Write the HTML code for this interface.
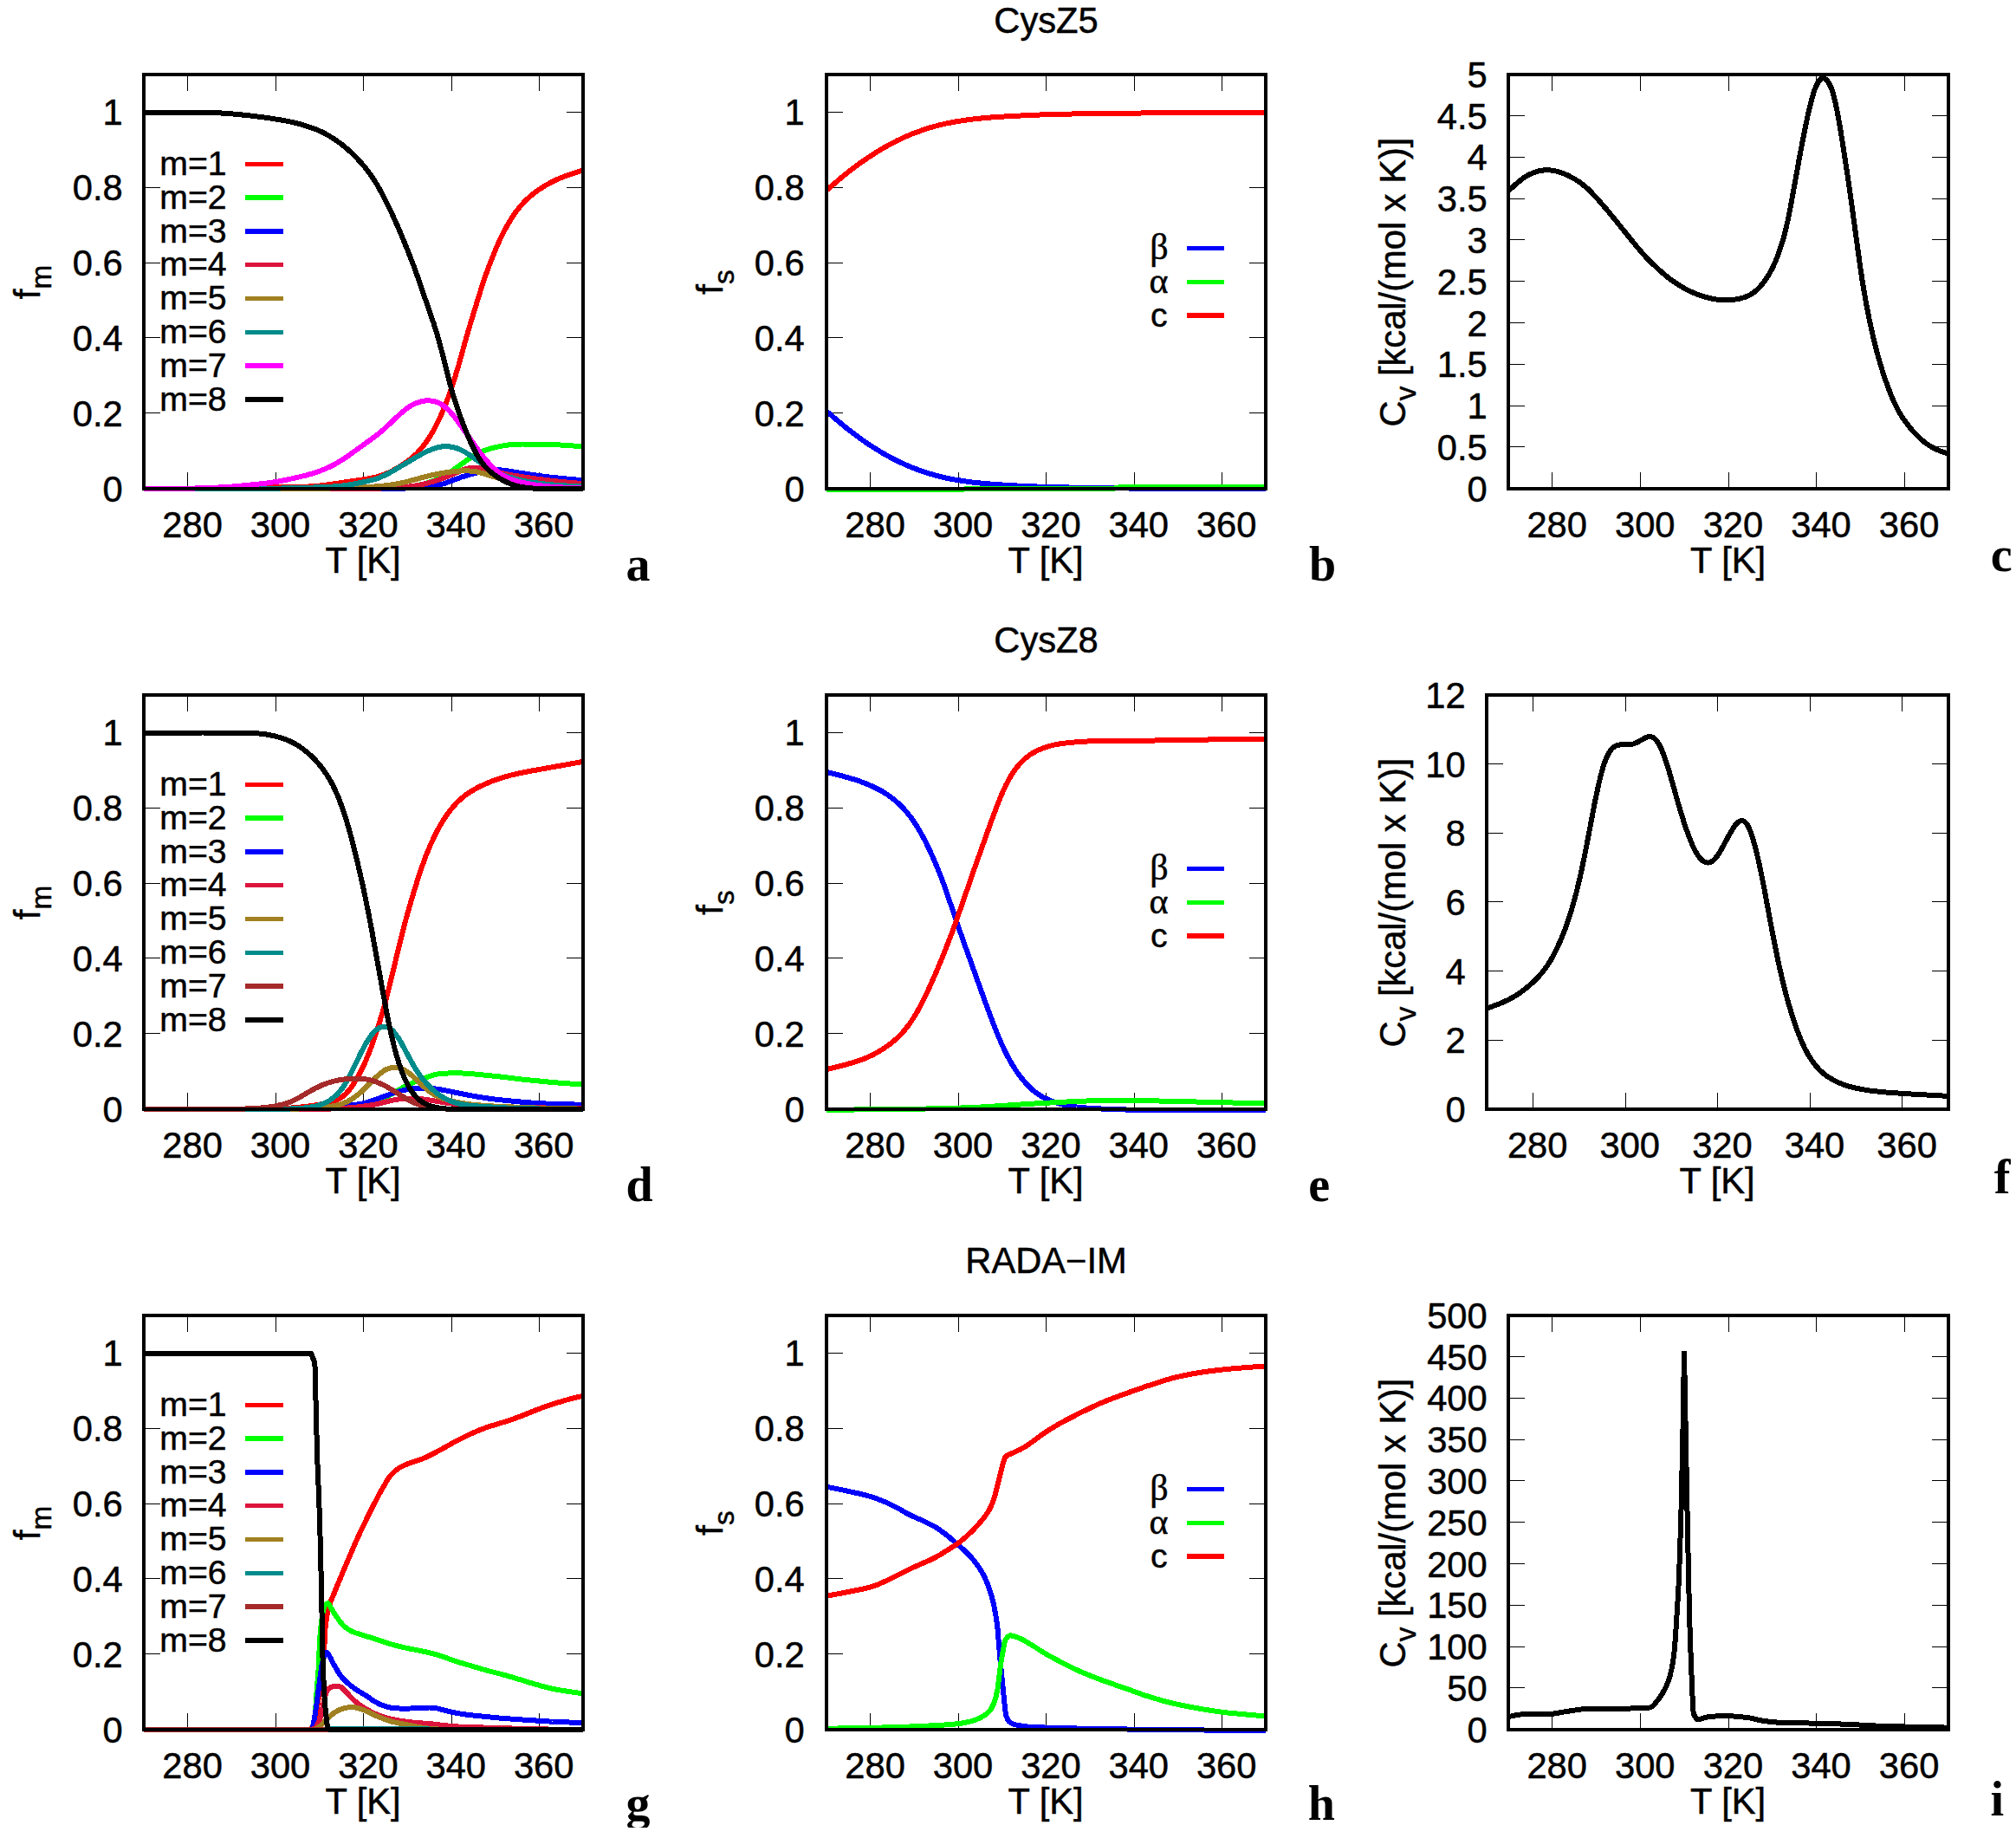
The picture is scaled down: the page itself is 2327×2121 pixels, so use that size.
<!DOCTYPE html>
<html><head><meta charset="utf-8"><title>Figure</title>
<style>html,body{margin:0;padding:0;background:#fff}svg{display:block}text{font-family:"Liberation Sans",sans-serif;fill:#000;stroke:#000;stroke-width:0.5px;stroke-linejoin:round}text.ltr{font-family:"Liberation Serif",serif;font-weight:bold;font-size:56px;stroke:none}text.grk{font-family:"Liberation Serif",serif;font-size:42px}</style>
</head><body>
<svg width="2327" height="2121" viewBox="0 0 2327 2121">
<rect width="2327" height="2121" fill="#fff"/>
<g id="panel-a">
<clipPath id="clip-a"><rect x="166" y="83" width="507" height="485"/></clipPath>
<path d="M216.50,86v19M216.50,564v-19M318.50,86v19M318.50,564v-19M419.50,86v19M419.50,564v-19M521.50,86v19M521.50,564v-19M622.50,86v19M622.50,564v-19M166,563.50h19M673,563.50h-19M166,476.50h19M673,476.50h-19M166,389.50h19M673,389.50h-19M166,303.50h19M673,303.50h-19M166,216.50h19M673,216.50h-19M166,129.50h19M673,129.50h-19" stroke="#000" stroke-width="1" fill="none" shape-rendering="crispEdges"/>
<g clip-path="url(#clip-a)" fill="none" stroke-width="6" stroke-linejoin="bevel" shape-rendering="crispEdges">
<path d="M166.0,564.0 258.3,564.0 309.7,562.4 348.3,561.9 358.7,561.4 368.0,560.7 379.7,559.2 422.5,552.8 430.1,551.4 436.2,550.0 440.3,548.7 444.1,547.3 448.1,545.6 452.2,543.6 456.5,541.3 461.1,538.6 465.9,535.5 469.9,532.7 476.0,527.9 478.8,525.4 481.6,522.7 484.4,519.7 486.9,516.7 492.0,510.1 496.8,502.8 501.6,494.5 505.9,486.0 510.5,475.8 514.1,467.2 517.6,457.8 521.2,447.8 524.7,437.0 529.5,421.0 538.4,389.1 544.0,370.0 554.6,335.7 561.2,315.9 564.5,306.9 568.1,297.7 571.6,289.0 575.1,280.8 578.2,274.2 581.5,267.5 584.8,261.4 588.1,255.7 591.6,250.0 595.4,244.6 599.2,239.7 603.3,235.0 607.3,230.8 611.7,226.8 616.2,223.1 621.0,219.5 626.4,216.0 631.9,212.7 637.8,209.6 643.6,206.8 649.4,204.4 656.0,201.9 663.1,199.5 673.0,196.3" stroke="#ff0000"/>
<path d="M166.0,564.0 312.0,563.8 431.7,563.8 441.6,563.7 450.2,563.4 458.0,563.0 465.4,562.4 471.2,561.7 476.8,561.0 481.9,560.1 486.7,559.1 491.2,557.9 495.8,556.5 500.1,555.0 504.2,553.4 511.0,550.1 517.6,546.2 523.2,542.4 540.2,530.2 544.7,527.2 549.0,524.7 554.6,521.9 560.2,519.6 566.0,517.7 572.6,516.0 580.7,514.4 588.1,513.3 594.7,512.8 602.8,512.5 623.3,512.7 637.5,513.0 650.9,513.7 673.0,515.3" stroke="#00ff00"/>
<path d="M166.0,564.0 409.4,564.0 461.6,563.6 475.8,563.4 486.4,563.0 492.0,562.6 497.1,561.9 501.9,561.0 506.7,559.9 514.1,557.5 527.5,552.4 533.8,550.2 542.4,547.6 551.6,545.2 557.2,543.9 562.2,543.1 567.0,542.5 571.6,542.3 577.4,542.4 584.3,543.1 611.4,547.5 621.5,548.9 632.4,550.3 651.2,552.3 673.0,554.2" stroke="#0000ff"/>
<path d="M166.0,564.0 391.1,563.9 436.2,563.6 448.1,563.3 458.8,562.8 468.2,562.1 476.5,561.0 484.1,559.8 491.5,558.1 500.9,555.4 512.0,551.6 519.6,548.6 531.3,543.5 536.1,541.7 539.2,540.8 542.2,540.2 545.2,539.8 548.5,539.6 553.6,539.8 559.2,540.6 564.8,541.9 577.7,545.5 584.0,547.0 592.6,548.6 606.8,550.8 623.6,553.1 638.8,555.0 654.0,556.5 673.0,558.1" stroke="#dc143c"/>
<path d="M166.0,564.0 352.6,564.0 393.1,563.3 408.1,562.8 422.5,562.1 432.2,561.5 440.8,560.8 448.1,560.0 454.7,559.0 460.8,557.9 467.2,556.5 492.3,549.8 499.1,548.2 505.4,546.9 514.1,545.4 523.2,544.2 530.5,543.5 536.9,543.3 540.9,543.4 545.0,543.7 548.8,544.2 552.8,545.0 560.4,547.1 576.7,552.3 585.3,554.8 595.2,557.1 605.1,558.8 610.9,559.5 617.5,560.2 632.9,561.2 649.9,561.8 673.0,562.3" stroke="#a08020"/>
<path d="M166.0,564.0 268.4,564.0 301.6,563.8 325.5,563.5 349.3,563.0 377.4,561.9 389.1,561.2 399.0,560.1 409.9,558.3 423.6,555.4 431.4,553.4 438.0,551.2 443.3,548.8 449.7,545.6 461.8,538.6 482.9,526.2 488.2,523.2 493.0,520.8 498.8,518.4 504.4,516.6 507.2,515.9 509.7,515.5 512.3,515.2 514.8,515.1 519.1,515.4 523.4,516.1 527.7,517.4 532.1,519.2 536.1,521.3 540.9,524.3 545.7,527.6 558.9,536.9 563.0,539.5 567.0,541.9 572.4,544.6 577.7,547.0 583.5,549.2 590.1,551.2 598.0,553.4 606.3,555.2 614.9,556.7 624.3,558.0 634.2,559.1 644.9,560.0 656.8,560.7 673.0,561.4" stroke="#008b8b"/>
<path d="M166.0,564.0 203.8,563.9 231.4,563.4 243.3,563.0 254.7,562.4 265.6,561.7 277.3,560.7 305.7,557.8 313.8,556.7 320.6,555.7 330.8,553.7 344.2,550.7 353.6,548.4 361.4,546.2 366.8,544.4 371.8,542.5 376.9,540.4 381.7,538.1 386.8,535.5 391.6,532.7 396.2,529.9 401.2,526.5 430.1,505.7 437.2,500.3 440.8,497.3 444.6,494.0 458.0,481.2 463.1,476.6 468.4,472.2 473.2,468.9 475.8,467.4 478.3,466.1 480.8,465.0 483.6,464.0 486.2,463.3 489.0,462.7 491.5,462.4 494.0,462.3 497.3,462.5 500.4,463.0 503.4,463.8 506.5,465.0 509.2,466.5 512.0,468.3 514.8,470.5 517.6,473.1 522.2,478.1 527.0,484.2 552.8,520.6 556.4,525.4 559.9,529.7 565.8,536.3 571.1,541.4 576.2,545.6 578.7,547.4 581.2,548.9 584.3,550.5 587.8,552.1 591.9,553.6 595.9,554.9 600.2,556.1 605.1,557.2 616.2,559.3 626.9,560.7 638.3,561.8 652.7,562.7 673.0,563.6" stroke="#ff00ff"/>
<path d="M166.0,129.5 232.9,129.7 244.3,130.0 255.5,130.5 272.5,131.8 290.2,133.6 309.2,136.1 327.0,138.9 337.9,141.1 348.0,143.7 359.4,147.3 364.0,149.0 368.0,150.7 371.8,152.4 375.9,154.5 380.0,156.9 384.3,159.5 388.3,162.2 392.1,164.9 395.9,167.8 399.7,171.0 404.3,175.0 408.6,179.2 412.9,183.6 417.2,188.3 421.3,193.1 424.8,197.6 428.1,202.1 431.4,207.0 434.7,212.3 438.0,218.0 441.6,224.5 445.1,231.4 452.7,247.1 460.6,264.8 470.2,288.0 478.1,308.3 483.1,322.5 500.6,373.2 504.4,385.4 507.7,397.0 511.0,409.7 517.9,437.3 521.2,449.7 525.0,462.4 529.3,475.2 532.6,484.2 536.1,493.4 539.7,502.1 543.2,510.2 546.3,516.7 549.3,522.6 552.3,527.9 555.1,532.2 558.9,537.2 563.0,541.6 567.5,545.6 572.6,549.5 578.2,553.0 584.3,556.2 590.1,558.7 596.2,560.6 601.3,561.8 606.8,562.7 613.9,563.4 622.3,564.0 673.0,564.0" stroke="#000000"/>
</g>
<rect x="166" y="86" width="507" height="478" fill="none" stroke="#000" stroke-width="4" shape-rendering="crispEdges"/>
<g font-size="41.67px" text-anchor="end">
<text x="141.7" y="578.8">0</text>
<text x="141.7" y="491.9">0.2</text>
<text x="141.7" y="405.0">0.4</text>
<text x="141.7" y="318.1">0.6</text>
<text x="141.7" y="231.2">0.8</text>
<text x="141.7" y="144.3">1</text>
</g>
<g font-size="41.67px" text-anchor="middle">
<text x="222.1" y="620.0">280</text>
<text x="323.5" y="620.0">300</text>
<text x="424.9" y="620.0">320</text>
<text x="526.3" y="620.0">340</text>
<text x="627.7" y="620.0">360</text>
<text x="419.0" y="660.7">T [K]</text>
</g>
<text transform="translate(46,325.5) rotate(-90)" font-size="41.67px" text-anchor="middle">f<tspan font-size="33.34px" dy="12.5">m</tspan></text>
<text x="722.6" y="669.5" class="ltr">a</text>
<g font-size="39.2px"><text x="184.3" y="201.9">m=1</text><path d="M283,189.3h44.2" stroke="#ff0000" stroke-width="5.5" shape-rendering="crispEdges"/><text x="184.3" y="240.7">m=2</text><path d="M283,228.1h44.2" stroke="#00ff00" stroke-width="5.5" shape-rendering="crispEdges"/><text x="184.3" y="279.5">m=3</text><path d="M283,266.9h44.2" stroke="#0000ff" stroke-width="5.5" shape-rendering="crispEdges"/><text x="184.3" y="318.3">m=4</text><path d="M283,305.7h44.2" stroke="#dc143c" stroke-width="5.5" shape-rendering="crispEdges"/><text x="184.3" y="357.1">m=5</text><path d="M283,344.5h44.2" stroke="#a08020" stroke-width="5.5" shape-rendering="crispEdges"/><text x="184.3" y="395.9">m=6</text><path d="M283,383.3h44.2" stroke="#008b8b" stroke-width="5.5" shape-rendering="crispEdges"/><text x="184.3" y="434.7">m=7</text><path d="M283,422.1h44.2" stroke="#ff00ff" stroke-width="5.5" shape-rendering="crispEdges"/><text x="184.3" y="473.5">m=8</text><path d="M283,460.9h44.2" stroke="#000000" stroke-width="5.5" shape-rendering="crispEdges"/></g>
</g>
<g id="panel-d">
<clipPath id="clip-d"><rect x="166" y="799" width="507" height="485"/></clipPath>
<path d="M216.50,802v19M216.50,1280v-19M318.50,802v19M318.50,1280v-19M419.50,802v19M419.50,1280v-19M521.50,802v19M521.50,1280v-19M622.50,802v19M622.50,1280v-19M166,1279.50h19M673,1279.50h-19M166,1192.50h19M673,1192.50h-19M166,1105.50h19M673,1105.50h-19M166,1019.50h19M673,1019.50h-19M166,932.50h19M673,932.50h-19M166,845.50h19M673,845.50h-19" stroke="#000" stroke-width="1" fill="none" shape-rendering="crispEdges"/>
<g clip-path="url(#clip-d)" fill="none" stroke-width="6" stroke-linejoin="bevel" shape-rendering="crispEdges">
<path d="M166.0,1280.0 245.6,1280.0 296.6,1279.8 317.3,1279.4 333.8,1278.7 344.7,1277.8 355.4,1276.6 367.8,1274.8 376.2,1273.2 382.7,1271.5 387.8,1269.7 390.1,1268.6 392.4,1267.4 396.2,1264.8 398.2,1263.1 400.2,1261.1 402.3,1258.8 404.3,1256.3 408.3,1250.6 412.4,1243.9 416.7,1235.8 420.8,1227.3 424.8,1217.8 428.9,1207.3 432.4,1197.3 436.0,1186.5 439.5,1174.9 443.1,1162.6 446.4,1150.4 449.4,1138.5 461.1,1090.0 467.4,1065.1 471.2,1051.3 475.0,1038.1 479.3,1023.9 483.6,1010.3 487.4,999.1 491.2,988.7 495.3,978.6 499.4,969.4 503.4,961.1 507.7,953.1 512.0,945.9 516.6,939.2 521.7,932.6 526.7,926.9 532.1,921.8 537.6,917.3 544.0,913.1 551.3,908.9 558.9,905.2 567.5,901.6 574.9,899.0 582.5,896.6 590.4,894.4 599.0,892.4 612.7,889.7 673.0,878.9" stroke="#ff0000"/>
<path d="M166.0,1280.0 356.1,1280.0 375.6,1279.7 386.8,1279.3 396.9,1278.7 406.1,1277.8 413.9,1276.7 421.0,1275.3 427.6,1273.7 433.7,1271.7 438.8,1269.6 443.8,1267.3 448.9,1264.5 460.3,1257.6 465.6,1254.7 473.0,1251.0 481.4,1247.4 492.0,1243.2 499.6,1240.7 502.9,1239.9 506.2,1239.3 509.7,1238.9 513.8,1238.6 520.4,1238.4 530.3,1238.4 537.6,1238.6 544.2,1239.1 575.9,1242.3 603.0,1245.6 632.4,1248.5 647.4,1249.8 673.0,1251.5" stroke="#00ff00"/>
<path d="M166.0,1280.0 353.3,1280.0 367.3,1279.4 377.7,1278.8 386.0,1278.0 395.4,1276.9 411.1,1274.7 418.5,1273.4 423.3,1272.3 428.4,1270.7 451.9,1262.1 458.0,1260.1 462.8,1258.8 468.7,1257.5 475.0,1256.5 481.4,1255.8 487.7,1255.6 492.0,1255.6 496.3,1255.8 500.6,1256.2 505.2,1256.8 513.8,1258.3 541.7,1263.9 554.1,1266.1 568.3,1268.2 586.6,1270.2 606.8,1272.1 627.6,1273.4 646.9,1274.2 673.0,1274.7" stroke="#0000ff"/>
<path d="M166.0,1280.0 355.4,1280.0 375.9,1279.7 387.8,1279.3 396.7,1278.8 404.8,1278.2 413.7,1277.3 423.3,1276.1 430.1,1275.0 435.7,1274.0 450.7,1270.2 457.0,1268.9 460.8,1268.3 464.6,1267.9 472.7,1267.6 480.3,1267.8 488.7,1268.5 496.1,1269.5 513.0,1272.3 522.4,1273.6 536.4,1275.0 551.8,1276.1 573.9,1277.1 606.6,1278.0 638.5,1278.7 673.0,1279.1" stroke="#dc143c"/>
<path d="M166.0,1280.0 323.9,1280.0 345.2,1279.5 360.4,1278.8 373.9,1277.8 378.9,1277.2 383.2,1276.6 389.6,1275.3 395.4,1273.5 400.7,1271.3 403.5,1269.8 406.1,1268.3 411.4,1264.6 417.0,1260.0 422.3,1254.9 434.5,1242.7 437.8,1239.7 440.5,1237.5 444.3,1234.9 447.9,1233.2 451.4,1232.2 453.2,1231.9 455.2,1231.8 458.8,1232.1 460.6,1232.5 462.6,1233.1 466.4,1234.7 470.5,1237.2 473.7,1239.6 477.6,1242.9 488.5,1253.4 492.3,1256.9 496.8,1260.4 501.1,1263.1 505.9,1265.5 511.5,1267.7 518.1,1269.7 526.0,1271.6 534.1,1273.2 544.2,1274.5 555.4,1275.6 567.8,1276.4 599.0,1277.8 622.8,1278.7 644.1,1279.2 673.0,1279.6" stroke="#a08020"/>
<path d="M166.0,1280.0 274.5,1280.0 319.1,1279.8 332.8,1279.6 344.7,1279.1 354.9,1278.1 359.4,1277.4 363.5,1276.6 367.3,1275.7 370.6,1274.6 373.9,1273.4 376.9,1271.9 379.7,1270.4 382.5,1268.5 385.3,1266.3 388.1,1263.8 390.6,1261.2 393.1,1258.3 395.2,1255.7 397.2,1252.7 401.2,1245.9 405.8,1237.1 415.2,1217.8 419.0,1210.3 423.0,1203.0 426.6,1197.4 428.9,1194.3 430.9,1191.8 433.2,1189.5 435.2,1187.8 437.5,1186.3 439.5,1185.4 441.6,1184.9 443.6,1184.7 445.4,1184.8 447.1,1185.3 448.9,1186.1 450.4,1187.0 452.2,1188.3 453.7,1189.8 455.2,1191.5 457.0,1193.7 459.8,1197.8 463.1,1203.3 474.5,1224.5 479.6,1233.3 482.4,1237.7 484.9,1241.3 487.4,1244.6 490.2,1247.9 493.8,1251.8 497.3,1255.3 501.1,1258.8 504.9,1261.9 508.5,1264.5 511.8,1266.6 515.3,1268.5 518.9,1270.1 522.4,1271.4 526.0,1272.6 530.0,1273.6 534.3,1274.5 538.6,1275.2 543.2,1275.8 554.6,1276.7 582.0,1278.4 604.3,1279.2 633.5,1279.7 673.0,1279.8" stroke="#008b8b"/>
<path d="M166.0,1280.0 238.2,1279.9 275.8,1279.7 286.7,1279.4 296.3,1278.9 304.7,1278.2 312.3,1277.3 319.1,1276.1 325.5,1274.7 331.0,1273.0 336.4,1271.1 340.2,1269.3 344.0,1267.4 357.9,1259.2 364.7,1255.5 371.6,1252.3 378.4,1249.7 382.2,1248.5 386.0,1247.5 390.1,1246.6 394.2,1245.9 398.2,1245.3 402.5,1244.9 406.8,1244.7 411.1,1244.6 417.7,1244.8 423.8,1245.6 429.6,1246.9 435.2,1248.8 440.5,1251.1 446.4,1254.1 453.0,1258.0 469.2,1268.0 473.2,1270.2 477.0,1272.1 482.1,1274.2 487.4,1276.0 493.0,1277.3 499.1,1278.4 504.7,1279.0 511.5,1279.4 519.4,1279.8 528.3,1279.9 598.0,1279.8 673.0,1280.0" stroke="#a52a2a"/>
<path d="M166.0,845.5 233.2,845.5 286.4,845.9 293.8,846.1 300.4,846.6 306.7,847.4 312.8,848.5 317.6,849.6 322.2,850.8 326.2,852.0 330.3,853.5 334.1,855.1 337.9,856.9 341.4,858.9 345.0,861.1 348.8,863.7 352.3,866.4 356.1,869.5 359.7,872.8 363.0,876.1 366.3,879.6 369.3,883.2 372.3,887.1 377.7,894.8 382.2,902.4 384.5,906.7 386.5,910.9 390.6,920.2 394.9,931.7 399.0,943.9 403.0,957.5 407.1,972.6 410.9,987.8 414.9,1004.9 418.5,1020.7 422.0,1037.4 425.6,1055.1 429.4,1075.1 442.1,1145.6 447.1,1172.4 449.9,1186.0 452.7,1198.5 455.2,1208.8 458.0,1218.9 460.8,1228.0 463.9,1236.6 466.9,1244.1 469.9,1250.6 473.0,1256.0 476.3,1261.0 479.8,1265.3 483.4,1268.7 486.7,1271.3 490.2,1273.4 494.3,1275.3 498.6,1276.7 503.2,1277.9 508.2,1278.8 513.8,1279.4 521.2,1279.9 522.9,1280.0 673.0,1280.0" stroke="#000000"/>
</g>
<rect x="166" y="802" width="507" height="478" fill="none" stroke="#000" stroke-width="4" shape-rendering="crispEdges"/>
<g font-size="41.67px" text-anchor="end">
<text x="141.7" y="1294.8">0</text>
<text x="141.7" y="1207.9">0.2</text>
<text x="141.7" y="1121.0">0.4</text>
<text x="141.7" y="1034.1">0.6</text>
<text x="141.7" y="947.2">0.8</text>
<text x="141.7" y="860.3">1</text>
</g>
<g font-size="41.67px" text-anchor="middle">
<text x="222.1" y="1336.0">280</text>
<text x="323.5" y="1336.0">300</text>
<text x="424.9" y="1336.0">320</text>
<text x="526.3" y="1336.0">340</text>
<text x="627.7" y="1336.0">360</text>
<text x="419.0" y="1376.7">T [K]</text>
</g>
<text transform="translate(46,1041.5) rotate(-90)" font-size="41.67px" text-anchor="middle">f<tspan font-size="33.34px" dy="12.5">m</tspan></text>
<text x="722.6" y="1386" class="ltr">d</text>
<g font-size="39.2px"><text x="184.3" y="917.9">m=1</text><path d="M283,905.3h44.2" stroke="#ff0000" stroke-width="5.5" shape-rendering="crispEdges"/><text x="184.3" y="956.7">m=2</text><path d="M283,944.1h44.2" stroke="#00ff00" stroke-width="5.5" shape-rendering="crispEdges"/><text x="184.3" y="995.5">m=3</text><path d="M283,982.9h44.2" stroke="#0000ff" stroke-width="5.5" shape-rendering="crispEdges"/><text x="184.3" y="1034.3">m=4</text><path d="M283,1021.7h44.2" stroke="#dc143c" stroke-width="5.5" shape-rendering="crispEdges"/><text x="184.3" y="1073.1">m=5</text><path d="M283,1060.5h44.2" stroke="#a08020" stroke-width="5.5" shape-rendering="crispEdges"/><text x="184.3" y="1111.9">m=6</text><path d="M283,1099.3h44.2" stroke="#008b8b" stroke-width="5.5" shape-rendering="crispEdges"/><text x="184.3" y="1150.7">m=7</text><path d="M283,1138.1h44.2" stroke="#a52a2a" stroke-width="5.5" shape-rendering="crispEdges"/><text x="184.3" y="1189.5">m=8</text><path d="M283,1176.9h44.2" stroke="#000000" stroke-width="5.5" shape-rendering="crispEdges"/></g>
</g>
<g id="panel-g">
<clipPath id="clip-g"><rect x="166" y="1515" width="507" height="485"/></clipPath>
<path d="M216.50,1518v19M216.50,1996v-19M318.50,1518v19M318.50,1996v-19M419.50,1518v19M419.50,1996v-19M521.50,1518v19M521.50,1996v-19M622.50,1518v19M622.50,1996v-19M166,1995.50h19M673,1995.50h-19M166,1908.50h19M673,1908.50h-19M166,1821.50h19M673,1821.50h-19M166,1735.50h19M673,1735.50h-19M166,1648.50h19M673,1648.50h-19M166,1561.50h19M673,1561.50h-19" stroke="#000" stroke-width="1" fill="none" shape-rendering="crispEdges"/>
<g clip-path="url(#clip-g)" fill="none" stroke-width="6" stroke-linejoin="bevel" shape-rendering="crispEdges">
<path d="M166.0,1996.0 356.1,1996.0 357.6,1995.7 359.2,1994.8 360.2,1994.0 361.4,1992.6 362.2,1991.7 362.7,1990.6 363.7,1986.3 365.0,1978.6 367.3,1962.4 370.3,1935.2 373.4,1910.5 374.4,1899.1 375.4,1880.2 376.2,1873.0 376.9,1867.1 377.9,1861.1 378.9,1856.5 380.2,1852.0 381.7,1847.8 384.3,1842.0 389.3,1829.5 399.0,1806.6 410.6,1779.5 417.5,1764.5 427.4,1744.2 437.2,1725.1 440.3,1719.6 446.1,1709.6 448.4,1706.0 450.4,1703.3 453.7,1699.7 457.0,1696.7 459.8,1694.6 463.4,1692.5 466.9,1690.8 471.5,1688.9 485.7,1684.2 489.0,1682.9 492.5,1681.3 497.8,1678.7 508.2,1673.2 523.2,1664.8 532.3,1660.0 541.9,1655.3 551.1,1651.3 557.9,1648.6 564.5,1646.2 581.7,1641.0 593.7,1637.0 603.8,1633.2 619.8,1626.8 629.4,1623.2 636.0,1620.9 645.9,1617.9 655.8,1615.0 664.6,1612.7 673.0,1610.8" stroke="#ff0000"/>
<path d="M166.0,1996.0 359.2,1996.0 359.7,1995.8 360.2,1995.1 360.9,1993.6 361.7,1991.7 362.2,1989.6 363.2,1982.6 364.2,1972.9 365.5,1953.8 367.5,1927.0 369.1,1891.9 370.1,1879.6 371.1,1870.7 372.9,1859.8 373.6,1856.2 374.4,1853.5 374.9,1852.6 376.2,1851.4 377.4,1850.6 378.4,1850.3 378.9,1850.4 379.7,1851.2 381.7,1854.8 387.3,1864.0 392.4,1871.2 395.7,1875.2 396.9,1876.5 398.7,1877.9 402.5,1880.6 406.3,1882.7 410.4,1884.3 419.8,1887.3 434.5,1891.7 447.9,1896.3 455.0,1898.4 462.1,1900.2 470.2,1902.0 484.9,1904.9 490.5,1906.1 498.1,1907.9 505.2,1909.8 511.5,1911.8 524.4,1916.5 531.5,1918.7 562.7,1927.9 579.7,1932.2 585.3,1933.7 615.5,1942.9 628.6,1946.6 636.7,1948.6 644.9,1950.2 659.8,1952.5 673.0,1954.3" stroke="#00ff00"/>
<path d="M166.0,1996.0 357.6,1996.0 358.7,1995.8 360.2,1994.7 360.7,1993.8 361.7,1990.0 362.7,1984.5 364.7,1972.0 370.1,1930.6 371.6,1921.1 373.4,1913.7 374.4,1910.1 375.4,1907.6 375.9,1906.9 376.4,1906.6 376.9,1906.7 377.7,1907.3 379.2,1909.4 381.7,1913.6 384.5,1919.3 387.6,1924.7 390.1,1929.0 392.1,1932.2 393.9,1934.6 395.7,1936.7 398.0,1939.1 400.5,1941.5 405.3,1945.5 409.9,1948.9 414.2,1951.7 422.8,1956.8 431.4,1962.9 435.7,1965.3 439.3,1967.1 442.8,1968.4 446.9,1969.7 450.2,1970.5 454.2,1971.1 457.3,1971.3 462.6,1971.6 474.5,1971.5 489.7,1970.7 495.6,1970.5 498.6,1970.6 504.7,1971.4 518.1,1975.0 526.5,1976.7 536.4,1978.4 545.7,1979.5 579.0,1982.8 607.3,1984.8 637.5,1986.7 657.0,1987.5 673.0,1988.0" stroke="#0000ff"/>
<path d="M166.0,1996.0 358.7,1996.0 359.7,1995.9 360.7,1995.6 362.0,1995.0 363.7,1993.8 364.5,1993.1 366.0,1990.9 368.0,1986.7 369.6,1982.2 371.6,1974.5 374.6,1960.0 376.4,1953.9 377.7,1950.8 378.2,1950.1 379.4,1948.8 380.5,1948.0 381.7,1947.2 385.0,1946.1 387.6,1945.8 389.3,1945.9 391.4,1946.3 393.4,1946.8 394.4,1947.3 399.0,1951.8 405.6,1959.2 409.6,1963.0 413.2,1965.9 416.7,1968.5 420.5,1970.9 425.1,1973.6 429.6,1976.0 432.9,1977.7 435.2,1978.6 440.0,1980.4 444.9,1981.9 449.4,1983.2 453.5,1984.1 458.5,1985.1 466.1,1986.3 475.0,1987.4 499.6,1989.5 519.1,1991.8 528.3,1992.5 541.2,1993.0 586.3,1994.4 618.8,1995.2 637.0,1995.6 673.0,1995.8" stroke="#dc143c"/>
<path d="M166.0,1996.0 361.2,1995.9 363.0,1995.6 365.0,1995.0 366.3,1994.4 367.5,1993.5 371.1,1990.5 375.9,1985.2 381.2,1980.1 385.0,1977.1 389.1,1974.5 392.4,1972.9 397.2,1971.2 402.3,1970.3 406.3,1970.0 408.3,1970.1 410.9,1970.6 416.5,1972.0 418.2,1972.6 421.0,1973.7 426.1,1976.0 433.9,1979.9 438.8,1982.0 445.1,1984.4 452.7,1986.8 460.8,1988.6 483.9,1993.1 488.2,1993.8 498.6,1995.0 507.0,1995.6 536.6,1996.0 673.0,1996.0" stroke="#a08020"/>
<path d="M166.0,1996.0 364.2,1996.0 369.8,1995.8 383.8,1995.1 409.4,1994.8 480.1,1995.3 519.6,1995.8 673.0,1996.0" stroke="#008b8b"/>
<path d="M166.0,1996.0 673.0,1996.0" stroke="#a52a2a"/>
<path d="M166.0,1561.5 358.4,1561.5 358.9,1561.7 359.4,1562.5 362.2,1569.7 362.7,1571.5 363.5,1576.2 363.7,1582.3 365.8,1668.0 366.5,1690.1 368.3,1732.8 369.8,1782.0 371.1,1837.4 372.3,1906.4 372.9,1925.3 373.4,1937.3 374.6,1959.8 375.4,1969.5 376.7,1982.7 377.4,1988.7 377.9,1991.4 378.9,1994.3 379.4,1995.3 380.0,1995.9 673.0,1996.0" stroke="#000000"/>
</g>
<rect x="166" y="1518" width="507" height="478" fill="none" stroke="#000" stroke-width="4" shape-rendering="crispEdges"/>
<g font-size="41.67px" text-anchor="end">
<text x="141.7" y="2010.8">0</text>
<text x="141.7" y="1923.9">0.2</text>
<text x="141.7" y="1837.0">0.4</text>
<text x="141.7" y="1750.1">0.6</text>
<text x="141.7" y="1663.2">0.8</text>
<text x="141.7" y="1576.3">1</text>
</g>
<g font-size="41.67px" text-anchor="middle">
<text x="222.1" y="2052.0">280</text>
<text x="323.5" y="2052.0">300</text>
<text x="424.9" y="2052.0">320</text>
<text x="526.3" y="2052.0">340</text>
<text x="627.7" y="2052.0">360</text>
<text x="419.0" y="2092.7">T [K]</text>
</g>
<text transform="translate(46,1757.5) rotate(-90)" font-size="41.67px" text-anchor="middle">f<tspan font-size="33.34px" dy="12.5">m</tspan></text>
<text x="722.6" y="2100.3" class="ltr">g</text>
<g font-size="39.2px"><text x="184.3" y="1633.9">m=1</text><path d="M283,1621.3h44.2" stroke="#ff0000" stroke-width="5.5" shape-rendering="crispEdges"/><text x="184.3" y="1672.7">m=2</text><path d="M283,1660.1h44.2" stroke="#00ff00" stroke-width="5.5" shape-rendering="crispEdges"/><text x="184.3" y="1711.5">m=3</text><path d="M283,1698.9h44.2" stroke="#0000ff" stroke-width="5.5" shape-rendering="crispEdges"/><text x="184.3" y="1750.3">m=4</text><path d="M283,1737.7h44.2" stroke="#dc143c" stroke-width="5.5" shape-rendering="crispEdges"/><text x="184.3" y="1789.1">m=5</text><path d="M283,1776.5h44.2" stroke="#a08020" stroke-width="5.5" shape-rendering="crispEdges"/><text x="184.3" y="1827.9">m=6</text><path d="M283,1815.3h44.2" stroke="#008b8b" stroke-width="5.5" shape-rendering="crispEdges"/><text x="184.3" y="1866.7">m=7</text><path d="M283,1854.1h44.2" stroke="#a52a2a" stroke-width="5.5" shape-rendering="crispEdges"/><text x="184.3" y="1905.5">m=8</text><path d="M283,1892.9h44.2" stroke="#000000" stroke-width="5.5" shape-rendering="crispEdges"/></g>
</g>
<g id="panel-b">
<clipPath id="clip-b"><rect x="954" y="83" width="507" height="485"/></clipPath>
<path d="M1004.50,86v19M1004.50,564v-19M1106.50,86v19M1106.50,564v-19M1207.50,86v19M1207.50,564v-19M1309.50,86v19M1309.50,564v-19M1410.50,86v19M1410.50,564v-19M954,563.50h19M1461,563.50h-19M954,476.50h19M1461,476.50h-19M954,389.50h19M1461,389.50h-19M954,303.50h19M1461,303.50h-19M954,216.50h19M1461,216.50h-19M954,129.50h19M1461,129.50h-19" stroke="#000" stroke-width="1" fill="none" shape-rendering="crispEdges"/>
<g clip-path="url(#clip-b)" fill="none" stroke-width="6" stroke-linejoin="bevel" shape-rendering="crispEdges">
<path d="M954.0,474.5 966.4,485.1 975.5,492.7 983.9,499.3 992.3,505.5 1000.9,511.6 1009.8,517.3 1018.9,522.9 1027.8,527.8 1036.4,532.2 1045.3,536.4 1054.1,540.1 1063.3,543.4 1072.9,546.6 1082.5,549.3 1091.7,551.5 1101.3,553.4 1111.4,555.0 1122.1,556.5 1132.5,557.6 1143.6,558.6 1157.3,559.5 1175.8,560.6 1194.1,561.4 1211.8,562.0 1250.6,562.9 1299.8,563.5 1372.3,563.9 1461.0,564.2" stroke="#0000ff"/>
<path d="M954.0,564.9 1111.2,564.9 1112.4,564.7 1115.2,563.9 1116.2,563.8 1283.6,563.8 1285.8,563.6 1291.2,562.5 1293.7,562.3 1366.4,561.9 1461.0,561.8" stroke="#00ff00"/>
<path d="M954.0,219.6 966.4,209.0 975.5,201.4 983.9,194.8 992.3,188.6 1000.9,182.6 1009.8,176.8 1018.9,171.2 1027.8,166.3 1036.4,161.9 1045.3,157.7 1054.1,154.0 1063.3,150.7 1072.9,147.5 1082.5,144.8 1091.7,142.6 1101.3,140.7 1111.4,139.1 1122.1,137.6 1132.5,136.5 1143.6,135.5 1157.3,134.6 1175.8,133.6 1194.1,132.7 1211.8,132.1 1250.6,131.2 1299.8,130.6 1372.3,130.2 1461.0,129.9" stroke="#ff0000"/>
</g>
<rect x="954" y="86" width="507" height="478" fill="none" stroke="#000" stroke-width="4" shape-rendering="crispEdges"/>
<g font-size="41.67px" text-anchor="end">
<text x="928.7" y="578.8">0</text>
<text x="928.7" y="491.9">0.2</text>
<text x="928.7" y="405.0">0.4</text>
<text x="928.7" y="318.1">0.6</text>
<text x="928.7" y="231.2">0.8</text>
<text x="928.7" y="144.3">1</text>
</g>
<g font-size="41.67px" text-anchor="middle">
<text x="1010.1" y="620.0">280</text>
<text x="1111.5" y="620.0">300</text>
<text x="1212.9" y="620.0">320</text>
<text x="1314.3" y="620.0">340</text>
<text x="1415.7" y="620.0">360</text>
<text x="1207.0" y="660.7">T [K]</text>
<text x="1207.5" y="37.9">CysZ5</text>
</g>
<text transform="translate(834,325.5) rotate(-90)" font-size="41.67px" text-anchor="middle">f<tspan font-size="33.34px" dy="12.5">s</tspan></text>
<text x="1511" y="670" class="ltr">b</text>
<g font-size="39.2px" text-anchor="end"><text x="1348.5" y="299.2" class="grk">β</text><path d="M1369.9,286.6h43.1" stroke="#0000ff" stroke-width="5.5" shape-rendering="crispEdges"/><text x="1348.5" y="337.9" class="grk">α</text><path d="M1369.9,325.3h43.1" stroke="#00ff00" stroke-width="5.5" shape-rendering="crispEdges"/><text x="1347.5" y="376.6">c</text><path d="M1369.9,364.0h43.1" stroke="#ff0000" stroke-width="5.5" shape-rendering="crispEdges"/></g>
</g>
<g id="panel-e">
<clipPath id="clip-e"><rect x="954" y="799" width="507" height="485"/></clipPath>
<path d="M1004.50,802v19M1004.50,1280v-19M1106.50,802v19M1106.50,1280v-19M1207.50,802v19M1207.50,1280v-19M1309.50,802v19M1309.50,1280v-19M1410.50,802v19M1410.50,1280v-19M954,1279.50h19M1461,1279.50h-19M954,1192.50h19M1461,1192.50h-19M954,1105.50h19M1461,1105.50h-19M954,1019.50h19M1461,1019.50h-19M954,932.50h19M1461,932.50h-19M954,845.50h19M1461,845.50h-19" stroke="#000" stroke-width="1" fill="none" shape-rendering="crispEdges"/>
<g clip-path="url(#clip-e)" fill="none" stroke-width="6" stroke-linejoin="bevel" shape-rendering="crispEdges">
<path d="M954.0,890.8 966.7,894.0 975.8,896.5 984.2,898.9 991.8,901.4 999.4,904.3 1006.5,907.2 1012.8,910.3 1018.4,913.3 1023.7,916.6 1029.0,920.4 1034.1,924.5 1039.2,929.2 1043.7,933.9 1048.0,938.9 1052.4,944.6 1056.4,950.5 1060.0,956.2 1063.5,962.3 1067.1,968.9 1070.6,976.0 1074.2,983.5 1078.0,992.0 1081.5,1000.4 1085.1,1009.2 1089.1,1019.8 1092.9,1030.3 1104.8,1065.6 1111.7,1085.2 1137.0,1155.7 1142.9,1171.6 1147.9,1184.8 1152.5,1196.1 1156.5,1205.5 1160.9,1214.8 1164.9,1222.5 1169.2,1229.9 1174.0,1237.2 1179.4,1244.4 1184.4,1250.5 1189.5,1255.7 1192.0,1258.0 1194.6,1260.0 1199.9,1263.7 1202.9,1265.5 1206.0,1267.2 1212.3,1270.0 1219.2,1272.5 1226.5,1274.6 1234.1,1276.2 1242.5,1277.5 1251.9,1278.4 1265.3,1279.3 1296.0,1280.4 1318.8,1281.1 1342.4,1281.6 1366.4,1281.9 1392.6,1282.0 1461.0,1281.7" stroke="#0000ff"/>
<path d="M954.0,1280.9 1069.1,1279.5 1088.9,1279.2 1104.8,1278.7 1119.8,1278.1 1136.5,1277.3 1188.7,1273.8 1236.4,1271.2 1253.9,1270.5 1272.1,1270.0 1296.2,1269.9 1324.9,1270.2 1461.0,1273.4" stroke="#00ff00"/>
<path d="M954.0,1234.2 966.7,1231.0 976.1,1228.6 984.7,1226.1 991.5,1223.9 997.6,1221.7 1003.2,1219.3 1008.5,1216.7 1014.1,1213.6 1020.4,1209.7 1026.5,1205.4 1031.6,1201.4 1036.4,1197.1 1041.0,1192.5 1045.3,1187.4 1049.6,1181.8 1053.9,1175.4 1057.9,1168.8 1062.0,1161.6 1066.0,1153.7 1070.1,1145.3 1074.9,1134.7 1080.8,1121.3 1086.6,1107.4 1091.9,1094.2 1098.5,1077.1 1104.8,1059.8 1124.6,1002.7 1143.4,949.9 1151.0,929.6 1154.3,921.3 1157.3,914.1 1160.6,907.0 1163.9,900.5 1167.2,894.8 1170.7,889.4 1174.5,884.4 1178.3,880.1 1182.4,876.1 1186.7,872.6 1189.2,870.7 1192.0,869.0 1197.6,866.0 1204.0,863.3 1210.8,861.1 1217.4,859.4 1224.5,858.2 1234.4,857.0 1245.3,856.0 1257.2,855.4 1270.4,855.0 1321.8,854.7 1401.2,853.4 1461.0,852.6" stroke="#ff0000"/>
</g>
<rect x="954" y="802" width="507" height="478" fill="none" stroke="#000" stroke-width="4" shape-rendering="crispEdges"/>
<g font-size="41.67px" text-anchor="end">
<text x="928.7" y="1294.8">0</text>
<text x="928.7" y="1207.9">0.2</text>
<text x="928.7" y="1121.0">0.4</text>
<text x="928.7" y="1034.1">0.6</text>
<text x="928.7" y="947.2">0.8</text>
<text x="928.7" y="860.3">1</text>
</g>
<g font-size="41.67px" text-anchor="middle">
<text x="1010.1" y="1336.0">280</text>
<text x="1111.5" y="1336.0">300</text>
<text x="1212.9" y="1336.0">320</text>
<text x="1314.3" y="1336.0">340</text>
<text x="1415.7" y="1336.0">360</text>
<text x="1207.0" y="1376.7">T [K]</text>
<text x="1207.5" y="752.9">CysZ8</text>
</g>
<text transform="translate(834,1041.5) rotate(-90)" font-size="41.67px" text-anchor="middle">f<tspan font-size="33.34px" dy="12.5">s</tspan></text>
<text x="1510.2" y="1385.7" class="ltr">e</text>
<g font-size="39.2px" text-anchor="end"><text x="1348.5" y="1015.2" class="grk">β</text><path d="M1369.9,1002.6h43.1" stroke="#0000ff" stroke-width="5.5" shape-rendering="crispEdges"/><text x="1348.5" y="1053.9" class="grk">α</text><path d="M1369.9,1041.3h43.1" stroke="#00ff00" stroke-width="5.5" shape-rendering="crispEdges"/><text x="1347.5" y="1092.6">c</text><path d="M1369.9,1080.0h43.1" stroke="#ff0000" stroke-width="5.5" shape-rendering="crispEdges"/></g>
</g>
<g id="panel-h">
<clipPath id="clip-h"><rect x="954" y="1515" width="507" height="485"/></clipPath>
<path d="M1004.50,1518v19M1004.50,1996v-19M1106.50,1518v19M1106.50,1996v-19M1207.50,1518v19M1207.50,1996v-19M1309.50,1518v19M1309.50,1996v-19M1410.50,1518v19M1410.50,1996v-19M954,1995.50h19M1461,1995.50h-19M954,1908.50h19M1461,1908.50h-19M954,1821.50h19M1461,1821.50h-19M954,1735.50h19M1461,1735.50h-19M954,1648.50h19M1461,1648.50h-19M954,1561.50h19M1461,1561.50h-19" stroke="#000" stroke-width="1" fill="none" shape-rendering="crispEdges"/>
<g clip-path="url(#clip-h)" fill="none" stroke-width="6" stroke-linejoin="bevel" shape-rendering="crispEdges">
<path d="M954.0,1715.7 971.7,1719.2 993.0,1723.9 1003.7,1726.7 1012.3,1729.5 1019.9,1732.5 1026.8,1735.5 1037.9,1741.2 1047.0,1746.5 1050.6,1748.4 1054.4,1750.2 1064.0,1754.3 1073.4,1758.8 1079.0,1761.8 1083.8,1764.9 1090.4,1769.6 1096.7,1774.7 1111.4,1787.6 1115.7,1791.6 1120.3,1796.3 1125.6,1802.7 1129.2,1807.5 1132.5,1812.6 1135.5,1818.0 1138.0,1823.3 1140.6,1829.5 1143.1,1836.8 1144.9,1842.9 1146.7,1850.1 1148.2,1857.4 1149.4,1864.5 1150.5,1871.4 1151.5,1879.5 1154.5,1915.6 1160.1,1971.6 1160.9,1978.1 1161.1,1979.3 1161.9,1981.5 1163.4,1984.7 1164.9,1986.8 1165.7,1987.4 1166.9,1988.2 1169.7,1989.5 1173.0,1990.5 1177.6,1991.4 1182.9,1992.2 1188.2,1992.7 1195.3,1993.1 1215.6,1993.9 1256.4,1994.8 1320.1,1995.8 1399.7,1996.6 1461.0,1996.9" stroke="#0000ff"/>
<path d="M954.0,1994.7 989.5,1994.2 1034.6,1993.1 1065.3,1991.9 1091.7,1990.4 1099.5,1989.8 1106.4,1989.1 1110.7,1988.5 1115.2,1987.6 1120.5,1986.4 1124.1,1985.3 1128.2,1983.8 1132.0,1982.0 1135.3,1980.2 1137.8,1978.5 1140.1,1976.5 1142.4,1974.1 1143.9,1972.1 1145.4,1969.4 1146.9,1966.1 1148.2,1962.8 1149.7,1957.6 1151.5,1949.1 1152.2,1943.9 1154.0,1928.8 1155.5,1918.3 1157.3,1907.5 1159.8,1894.3 1160.6,1892.1 1162.6,1889.4 1163.6,1888.4 1164.4,1887.9 1165.4,1887.5 1166.2,1887.4 1168.5,1887.6 1171.0,1888.3 1176.8,1890.5 1180.1,1892.0 1183.7,1894.0 1191.3,1898.5 1203.2,1906.2 1211.8,1911.2 1222.2,1916.7 1231.8,1921.7 1239.7,1925.6 1246.8,1928.8 1259.5,1934.1 1274.9,1940.0 1301.8,1949.3 1319.5,1955.7 1326.9,1958.1 1342.1,1962.6 1356.1,1966.1 1372.3,1969.5 1390.3,1972.7 1404.5,1974.9 1417.1,1976.5 1440.5,1978.7 1461.0,1980.4" stroke="#00ff00"/>
<path d="M954.0,1841.7 970.7,1838.7 996.8,1833.5 1005.2,1831.4 1008.2,1830.4 1011.8,1829.1 1017.1,1826.8 1026.2,1822.7 1050.8,1810.3 1071.6,1801.1 1078.2,1798.0 1081.8,1796.0 1086.1,1793.5 1100.5,1784.5 1105.8,1780.9 1110.9,1776.9 1116.2,1772.3 1122.1,1766.8 1127.1,1761.6 1131.7,1756.4 1136.3,1750.7 1139.6,1746.0 1142.1,1741.8 1143.9,1738.3 1145.4,1734.8 1146.9,1730.8 1148.4,1726.2 1155.8,1696.0 1159.1,1684.3 1159.8,1682.4 1160.6,1681.2 1162.1,1679.9 1163.9,1678.8 1170.0,1676.3 1178.3,1672.3 1182.4,1670.0 1185.7,1667.9 1191.0,1664.2 1202.7,1655.5 1210.3,1650.5 1215.4,1647.3 1220.4,1644.3 1232.9,1637.5 1247.6,1630.1 1260.5,1623.7 1270.1,1619.4 1279.0,1615.7 1291.7,1610.9 1320.6,1600.6 1340.6,1594.1 1352.0,1590.7 1362.6,1588.1 1374.0,1585.8 1384.2,1584.0 1396.6,1582.2 1409.5,1580.7 1423.2,1579.3 1443.0,1577.7 1461.0,1576.4" stroke="#ff0000"/>
</g>
<rect x="954" y="1518" width="507" height="478" fill="none" stroke="#000" stroke-width="4" shape-rendering="crispEdges"/>
<g font-size="41.67px" text-anchor="end">
<text x="928.7" y="2010.8">0</text>
<text x="928.7" y="1923.9">0.2</text>
<text x="928.7" y="1837.0">0.4</text>
<text x="928.7" y="1750.1">0.6</text>
<text x="928.7" y="1663.2">0.8</text>
<text x="928.7" y="1576.3">1</text>
</g>
<g font-size="41.67px" text-anchor="middle">
<text x="1010.1" y="2052.0">280</text>
<text x="1111.5" y="2052.0">300</text>
<text x="1212.9" y="2052.0">320</text>
<text x="1314.3" y="2052.0">340</text>
<text x="1415.7" y="2052.0">360</text>
<text x="1207.0" y="2092.7">T [K]</text>
<text x="1207.5" y="1468.6">RADA−IM</text>
</g>
<text transform="translate(834,1757.5) rotate(-90)" font-size="41.67px" text-anchor="middle">f<tspan font-size="33.34px" dy="12.5">s</tspan></text>
<text x="1509.8" y="2100" class="ltr">h</text>
<g font-size="39.2px" text-anchor="end"><text x="1348.5" y="1731.2" class="grk">β</text><path d="M1369.9,1718.6h43.1" stroke="#0000ff" stroke-width="5.5" shape-rendering="crispEdges"/><text x="1348.5" y="1769.9" class="grk">α</text><path d="M1369.9,1757.3h43.1" stroke="#00ff00" stroke-width="5.5" shape-rendering="crispEdges"/><text x="1347.5" y="1808.6">c</text><path d="M1369.9,1796.0h43.1" stroke="#ff0000" stroke-width="5.5" shape-rendering="crispEdges"/></g>
</g>
<g id="panel-c">
<clipPath id="clip-c"><rect x="1741" y="83" width="508" height="485"/></clipPath>
<path d="M1791.50,86v19M1791.50,564v-19M1893.50,86v19M1893.50,564v-19M1995.50,86v19M1995.50,564v-19M2096.50,86v19M2096.50,564v-19M2198.50,86v19M2198.50,564v-19M1741,563.50h19M2249,563.50h-19M1741,515.50h19M2249,515.50h-19M1741,468.50h19M2249,468.50h-19M1741,420.50h19M2249,420.50h-19M1741,372.50h19M2249,372.50h-19M1741,324.50h19M2249,324.50h-19M1741,276.50h19M2249,276.50h-19M1741,229.50h19M2249,229.50h-19M1741,181.50h19M2249,181.50h-19M1741,133.50h19M2249,133.50h-19M1741,85.50h19M2249,85.50h-19" stroke="#000" stroke-width="1" fill="none" shape-rendering="crispEdges"/>
<g clip-path="url(#clip-c)" fill="none" stroke-width="6" stroke-linejoin="bevel" shape-rendering="crispEdges">
<path d="M1741.0,220.3 1751.9,210.6 1755.7,207.5 1759.3,204.9 1762.8,202.7 1766.7,200.7 1770.2,199.2 1774.0,197.9 1778.1,197.0 1782.1,196.4 1786.2,196.3 1790.3,196.5 1794.6,197.2 1798.9,198.2 1803.2,199.6 1807.8,201.5 1811.6,203.4 1815.7,205.5 1819.5,207.8 1823.0,210.1 1826.3,212.5 1829.6,215.2 1832.7,217.8 1835.7,220.8 1843.1,228.6 1853.3,240.3 1864.7,254.1 1888.3,283.4 1894.2,290.3 1899.2,296.0 1907.6,304.5 1916.8,313.0 1925.4,320.2 1929.7,323.5 1933.8,326.3 1938.9,329.6 1943.9,332.6 1949.0,335.3 1954.1,337.6 1959.7,339.9 1965.3,341.8 1970.9,343.4 1976.2,344.7 1981.3,345.6 1986.4,346.1 1991.2,346.4 1995.8,346.3 2000.6,345.9 2005.2,345.2 2010.0,344.1 2014.3,342.8 2017.4,341.6 2020.1,340.2 2022.7,338.7 2025.2,336.8 2027.8,334.7 2030.3,332.2 2032.8,329.4 2035.4,326.3 2037.9,322.8 2040.2,319.4 2042.5,315.6 2044.5,311.8 2046.6,307.8 2048.6,303.4 2050.6,298.5 2052.7,293.2 2055.7,284.3 2058.8,274.2 2061.0,265.6 2063.6,254.5 2067.4,235.4 2076.3,185.9 2081.6,157.8 2086.7,133.2 2088.7,124.3 2090.8,116.3 2092.8,109.2 2094.8,103.1 2096.9,98.2 2098.9,94.4 2100.7,92.1 2101.7,91.2 2102.7,90.6 2103.7,90.3 2104.7,90.3 2105.7,90.5 2106.8,91.0 2108.5,92.5 2110.6,95.2 2112.3,98.4 2113.9,102.0 2115.4,106.4 2116.9,111.7 2118.4,118.1 2120.2,126.6 2122.3,137.5 2124.8,152.3 2130.9,191.2 2136.5,229.7 2146.9,305.8 2149.9,325.9 2153.0,344.1 2155.3,356.5 2157.8,369.3 2160.4,381.2 2162.9,392.1 2165.7,403.3 2168.5,413.6 2171.3,423.1 2174.3,432.7 2177.9,443.1 2181.7,453.2 2185.2,461.7 2188.8,469.3 2192.1,475.5 2195.9,481.7 2200.0,487.5 2204.8,493.7 2209.9,499.5 2215.0,504.7 2219.8,509.0 2224.9,512.8 2229.7,515.8 2235.0,518.5 2240.9,521.0 2249.0,523.9" stroke="#000000"/>
</g>
<rect x="1741" y="86" width="508" height="478" fill="none" stroke="#000" stroke-width="4" shape-rendering="crispEdges"/>
<g font-size="41.67px" text-anchor="end">
<text x="1716.7" y="578.8">0</text>
<text x="1716.7" y="531.0">0.5</text>
<text x="1716.7" y="483.2">1</text>
<text x="1716.7" y="435.4">1.5</text>
<text x="1716.7" y="387.6">2</text>
<text x="1716.7" y="339.8">2.5</text>
<text x="1716.7" y="292.0">3</text>
<text x="1716.7" y="244.2">3.5</text>
<text x="1716.7" y="196.4">4</text>
<text x="1716.7" y="148.6">4.5</text>
<text x="1716.7" y="100.8">5</text>
</g>
<g font-size="41.67px" text-anchor="middle">
<text x="1797.2" y="620.0">280</text>
<text x="1898.8" y="620.0">300</text>
<text x="2000.4" y="620.0">320</text>
<text x="2102.0" y="620.0">340</text>
<text x="2203.6" y="620.0">360</text>
<text x="1994.5" y="660.7">T [K]</text>
</g>
<text transform="translate(1621.5,325.5) rotate(-90)" font-size="41.67px" text-anchor="middle">C<tspan font-size="33.34px" dy="12.5">v</tspan><tspan dy="-12.5"> [kcal/(mol x K)]</tspan></text>
<text x="2297.8" y="658.7" class="ltr">c</text>
</g>
<g id="panel-f">
<clipPath id="clip-f"><rect x="1716" y="799" width="533" height="485"/></clipPath>
<path d="M1769.50,802v19M1769.50,1280v-19M1876.50,802v19M1876.50,1280v-19M1982.50,802v19M1982.50,1280v-19M2089.50,802v19M2089.50,1280v-19M2195.50,802v19M2195.50,1280v-19M1716,1279.50h19M2249,1279.50h-19M1716,1200.50h19M2249,1200.50h-19M1716,1120.50h19M2249,1120.50h-19M1716,1040.50h19M2249,1040.50h-19M1716,961.50h19M2249,961.50h-19M1716,881.50h19M2249,881.50h-19M1716,801.50h19M2249,801.50h-19" stroke="#000" stroke-width="1" fill="none" shape-rendering="crispEdges"/>
<g clip-path="url(#clip-f)" fill="none" stroke-width="6" stroke-linejoin="bevel" shape-rendering="crispEdges">
<path d="M1716.0,1163.7 1729.6,1158.8 1734.9,1156.5 1739.7,1154.3 1744.2,1152.0 1748.8,1149.4 1753.0,1146.6 1757.6,1143.4 1762.4,1139.6 1767.2,1135.5 1772.0,1131.0 1776.2,1126.6 1779.7,1122.6 1783.2,1118.2 1786.4,1113.7 1789.6,1108.6 1793.3,1102.1 1797.0,1094.7 1800.7,1086.5 1804.2,1078.2 1807.4,1069.8 1810.6,1060.6 1813.8,1050.5 1816.7,1040.4 1819.4,1030.4 1821.8,1020.7 1824.5,1009.1 1827.1,996.8 1831.4,975.6 1840.7,926.6 1845.3,905.0 1847.7,895.0 1850.0,886.3 1852.2,879.8 1854.6,873.7 1857.0,868.9 1859.4,865.4 1860.7,863.9 1862.0,862.7 1863.6,861.5 1865.2,860.7 1867.6,859.9 1870.3,859.4 1873.0,859.3 1880.4,859.2 1882.6,859.0 1884.7,858.6 1887.1,857.8 1889.8,856.7 1897.5,852.3 1900.4,850.9 1902.0,850.3 1903.3,850.1 1904.7,850.0 1905.7,850.1 1907.6,850.7 1909.2,851.7 1910.8,853.1 1912.4,855.0 1914.0,857.3 1915.6,860.2 1917.2,863.4 1918.8,867.1 1921.7,874.9 1925.2,885.5 1928.7,897.2 1936.1,923.6 1939.9,936.4 1944.1,950.0 1948.1,961.7 1952.4,972.6 1954.5,977.4 1956.4,981.2 1958.5,985.0 1960.4,987.9 1962.2,990.3 1964.1,992.2 1966.0,993.8 1967.8,994.8 1969.7,995.4 1971.6,995.6 1973.4,995.3 1975.3,994.5 1977.2,993.3 1979.0,991.6 1982.0,988.0 1985.4,982.7 1988.9,976.6 1996.6,962.2 2000.4,955.9 2002.2,953.2 2003.8,951.2 2005.4,949.5 2006.8,948.4 2008.4,947.5 2009.9,947.0 2011.5,947.1 2012.9,947.6 2014.2,948.5 2015.5,949.9 2016.9,951.8 2018.2,954.2 2019.5,957.1 2020.9,960.5 2023.5,968.6 2026.2,978.3 2029.4,991.6 2032.3,1005.1 2035.3,1019.7 2045.9,1076.6 2051.5,1104.7 2054.7,1119.4 2057.7,1132.0 2060.9,1144.8 2064.0,1156.6 2067.8,1169.2 2071.8,1181.5 2075.5,1191.8 2079.5,1201.7 2083.2,1209.7 2087.2,1217.2 2091.5,1224.0 2095.8,1229.7 2100.0,1234.4 2104.6,1238.6 2109.4,1242.2 2115.0,1245.7 2120.8,1248.7 2127.2,1251.3 2134.4,1253.7 2141.9,1255.6 2148.8,1257.0 2156.5,1258.3 2164.8,1259.3 2174.1,1260.3 2187.4,1261.3 2209.3,1262.7 2249.0,1264.9" stroke="#000000"/>
</g>
<rect x="1716" y="802" width="533" height="478" fill="none" stroke="#000" stroke-width="4" shape-rendering="crispEdges"/>
<g font-size="41.67px" text-anchor="end">
<text x="1691.7" y="1294.8">0</text>
<text x="1691.7" y="1215.1">2</text>
<text x="1691.7" y="1135.5">4</text>
<text x="1691.7" y="1055.8">6</text>
<text x="1691.7" y="976.1">8</text>
<text x="1691.7" y="896.5">10</text>
<text x="1691.7" y="816.8">12</text>
</g>
<g font-size="41.67px" text-anchor="middle">
<text x="1774.7" y="1336.0">280</text>
<text x="1881.3" y="1336.0">300</text>
<text x="1987.9" y="1336.0">320</text>
<text x="2094.5" y="1336.0">340</text>
<text x="2201.1" y="1336.0">360</text>
<text x="1982.0" y="1376.7">T [K]</text>
</g>
<text transform="translate(1621.5,1041.5) rotate(-90)" font-size="41.67px" text-anchor="middle">C<tspan font-size="33.34px" dy="12.5">v</tspan><tspan dy="-12.5"> [kcal/(mol x K)]</tspan></text>
<text x="2301.8" y="1377" class="ltr">f</text>
</g>
<g id="panel-i">
<clipPath id="clip-i"><rect x="1741" y="1515" width="508" height="485"/></clipPath>
<path d="M1791.50,1518v19M1791.50,1996v-19M1893.50,1518v19M1893.50,1996v-19M1995.50,1518v19M1995.50,1996v-19M2096.50,1518v19M2096.50,1996v-19M2198.50,1518v19M2198.50,1996v-19M1741,1995.50h19M2249,1995.50h-19M1741,1947.50h19M2249,1947.50h-19M1741,1900.50h19M2249,1900.50h-19M1741,1852.50h19M2249,1852.50h-19M1741,1804.50h19M2249,1804.50h-19M1741,1756.50h19M2249,1756.50h-19M1741,1708.50h19M2249,1708.50h-19M1741,1661.50h19M2249,1661.50h-19M1741,1613.50h19M2249,1613.50h-19M1741,1565.50h19M2249,1565.50h-19M1741,1517.50h19M2249,1517.50h-19" stroke="#000" stroke-width="1" fill="none" shape-rendering="crispEdges"/>
<g clip-path="url(#clip-i)" fill="none" stroke-width="6" stroke-linejoin="bevel" shape-rendering="crispEdges">
<path d="M1741.0,1981.2 1750.1,1979.2 1753.4,1978.7 1756.2,1978.4 1763.6,1978.2 1786.0,1978.0 1791.8,1977.7 1795.9,1977.2 1804.5,1975.6 1821.8,1972.9 1826.3,1972.3 1830.2,1971.9 1837.0,1971.8 1866.0,1972.2 1886.5,1971.3 1900.5,1971.2 1902.0,1971.1 1904.1,1970.5 1906.4,1969.6 1907.9,1968.5 1909.9,1966.4 1914.2,1961.1 1916.8,1957.5 1919.8,1952.6 1922.6,1947.3 1924.1,1943.9 1925.4,1940.7 1926.7,1937.0 1927.9,1932.7 1930.0,1923.9 1931.5,1914.4 1932.8,1903.6 1934.0,1888.4 1937.1,1838.3 1937.9,1822.3 1939.1,1789.2 1940.6,1738.7 1942.4,1656.1 1944.0,1559.1 1944.0,1559.1 1947.1,1724.4 1949.9,1857.3 1950.9,1891.3 1953.2,1951.2 1954.0,1966.9 1954.7,1977.6 1954.7,1977.6 1957.5,1982.6 1958.5,1983.7 1959.3,1984.0 1961.1,1983.9 1963.1,1983.6 1970.7,1981.4 1974.0,1980.7 1986.7,1980.3 1997.9,1980.3 2005.8,1980.8 2017.5,1982.1 2021.5,1982.8 2030.7,1985.0 2034.7,1985.7 2045.1,1987.1 2053.0,1987.7 2064.7,1988.1 2093.1,1988.6 2121.8,1989.4 2136.8,1990.0 2165.3,1991.5 2186.4,1992.2 2218.4,1993.0 2249.0,1993.6" stroke="#000000"/>
</g>
<rect x="1741" y="1518" width="508" height="478" fill="none" stroke="#000" stroke-width="4" shape-rendering="crispEdges"/>
<g font-size="41.67px" text-anchor="end">
<text x="1716.7" y="2010.8">0</text>
<text x="1716.7" y="1963.0">50</text>
<text x="1716.7" y="1915.2">100</text>
<text x="1716.7" y="1867.4">150</text>
<text x="1716.7" y="1819.6">200</text>
<text x="1716.7" y="1771.8">250</text>
<text x="1716.7" y="1724.0">300</text>
<text x="1716.7" y="1676.2">350</text>
<text x="1716.7" y="1628.4">400</text>
<text x="1716.7" y="1580.6">450</text>
<text x="1716.7" y="1532.8">500</text>
</g>
<g font-size="41.67px" text-anchor="middle">
<text x="1797.2" y="2052.0">280</text>
<text x="1898.8" y="2052.0">300</text>
<text x="2000.4" y="2052.0">320</text>
<text x="2102.0" y="2052.0">340</text>
<text x="2203.6" y="2052.0">360</text>
<text x="1994.5" y="2092.7">T [K]</text>
</g>
<text transform="translate(1621.5,1757.5) rotate(-90)" font-size="41.67px" text-anchor="middle">C<tspan font-size="33.34px" dy="12.5">v</tspan><tspan dy="-12.5"> [kcal/(mol x K)]</tspan></text>
<text x="2297.6" y="2095" class="ltr">i</text>
</g>
<rect x="700" y="2109" width="100" height="12" fill="#fff"/>
</svg>
</body></html>
